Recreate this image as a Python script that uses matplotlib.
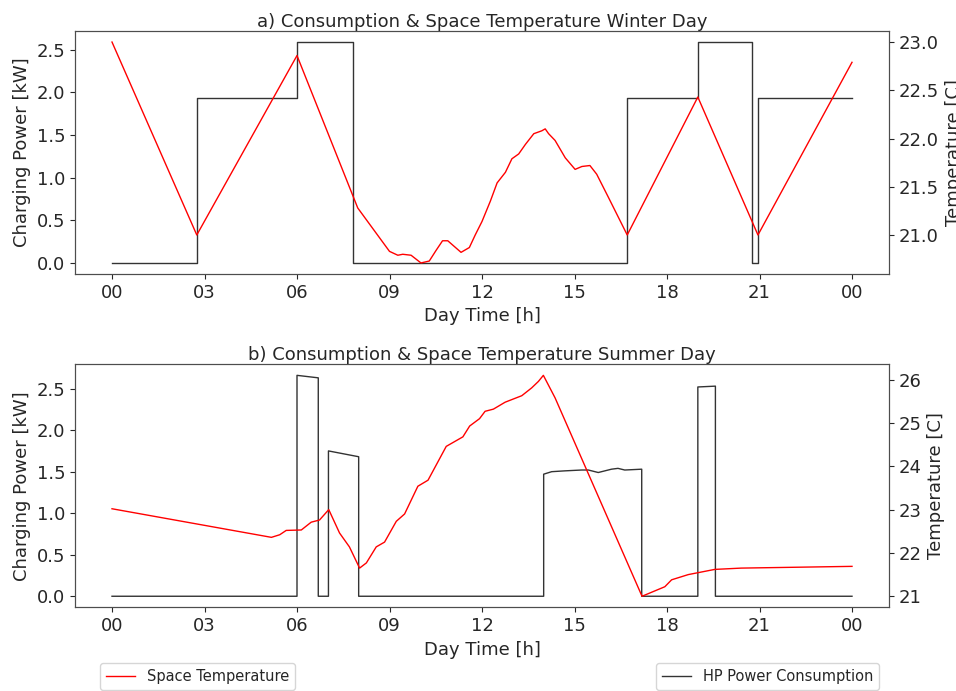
import matplotlib
matplotlib.use("Agg")
import matplotlib.pyplot as plt

# ---- Winter day ----
winter_power_t = [0, 2.75, 2.75, 6.0, 6.0, 7.83, 7.83, 16.71, 16.71, 19.0, 19.0, 20.75, 20.75, 20.95, 20.95, 24.0]
winter_power_kw = [0, 0, 1.93, 1.93, 2.59, 2.59, 0, 0, 1.93, 1.93, 2.59, 2.59, 0, 0, 1.93, 1.93]

winter_temp_t = [0, 2.75, 6.0, 7.97, 9.0, 9.27, 9.43, 9.70, 10.02, 10.29, 10.51, 10.72, 10.89,
                 11.32, 11.59, 11.78, 12.0, 12.27, 12.49, 12.76, 12.97, 13.19, 13.41, 13.68,
                 13.94, 14.05, 14.16, 14.37, 14.70, 15.02, 15.24, 15.50, 15.72, 16.10, 16.71,
                 19.0, 20.95, 24.0]
winter_temp_c = [23.0, 21.0, 22.86, 21.28, 20.83, 20.79, 20.80, 20.79, 20.71, 20.73, 20.84, 20.94,
                 20.94, 20.82, 20.87, 21.0, 21.14, 21.35, 21.54, 21.65, 21.79, 21.84, 21.94, 22.05,
                 22.08, 22.10, 22.05, 21.98, 21.80, 21.68, 21.71, 21.72, 21.63, 21.39, 21.0,
                 22.43, 21.0, 22.79]

# ---- Summer day ----
summer_power_t = [0, 6.0, 6.0, 6.69, 6.69, 7.02, 7.02, 8.0, 8.0, 14.0, 14.0, 14.26, 14.69, 15.23,
                  15.45, 15.77, 16.20, 16.41, 16.63, 17.18, 17.18, 19.0, 19.0, 19.57, 19.57, 24.0]
summer_power_kw = [0, 0, 2.66, 2.63, 0, 0, 1.75, 1.68, 0, 0, 1.47, 1.50, 1.51, 1.52,
                   1.52, 1.49, 1.53, 1.54, 1.52, 1.53, 0, 0, 2.52, 2.53, 0, 0]

summer_temp_t = [0, 5.17, 5.44, 5.65, 6.14, 6.46, 6.73, 7.03, 7.38, 7.70, 8.03, 8.25, 8.57, 8.84,
                 9.22, 9.49, 9.92, 10.25, 10.84, 11.38, 11.60, 11.92, 12.10, 12.37, 12.75, 13.29,
                 13.61, 13.83, 13.99, 14.37, 17.19, 17.93, 18.15, 18.69, 19.55, 20.41, 24.0]
summer_temp_c = [23.02, 22.36, 22.42, 22.52, 22.53, 22.71, 22.76, 23.0, 22.46, 22.14, 21.65, 21.77,
                 22.14, 22.25, 22.73, 22.90, 23.54, 23.68, 24.46, 24.68, 24.93, 25.10, 25.27, 25.32,
                 25.48, 25.63, 25.81, 25.96, 26.10, 25.58, 21.0, 21.22, 21.38, 21.50, 21.62, 21.65,
                 21.69]

hour_ticks = [0, 3, 6, 9, 12, 15, 18, 21, 24]
hour_labels = ["00", "03", "06", "09", "12", "15", "18", "21", "00"]

text_color = "#262626"
plt.rcParams.update({
    "font.family": ["DejaVu Sans"],
    "font.size": 13,
    "text.color": text_color,
    "axes.labelcolor": text_color,
    "xtick.color": text_color,
    "ytick.color": text_color,
    "axes.edgecolor": "#4d4d4d",
})

fig = plt.figure(figsize=(9.56, 6.91), dpi=100)
W, H = 956, 691
left, right = 75 / W, 889 / W
ax_top = fig.add_axes([left, 1 - 274 / H, right - left, (274 - 31) / H])
ax_bot = fig.add_axes([left, 1 - 607.3 / H, right - left, (607.3 - 364.3) / H])

panels = [
    (ax_top, winter_power_t, winter_power_kw, winter_temp_t, winter_temp_c,
     "a) Consumption & Space Temperature Winter Day", [21.0, 21.5, 22.0, 22.5, 23.0], "%.1f"),
    (ax_bot, summer_power_t, summer_power_kw, summer_temp_t, summer_temp_c,
     "b) Consumption & Space Temperature Summer Day", [21, 22, 23, 24, 25, 26], "%d"),
]

handles = []
for ax, pt, pv, tt, tv, title, tticks, tfmt in panels:
    hp, = ax.plot(pt, pv, color="#333333", lw=1.0, label="HP Power Consumption")
    ax.set_ylabel("Charging Power [kW]", fontsize=13)
    ax.set_xlabel("Day Time [h]", fontsize=13)
    ax.set_title(title, fontsize=13, pad=3)
    ax.set_xticks(hour_ticks)
    ax.set_xticklabels(hour_labels)
    ax.set_yticks([0.0, 0.5, 1.0, 1.5, 2.0, 2.5])
    ax.set_yticklabels(["0.0", "0.5", "1.0", "1.5", "2.0", "2.5"])
    ax.tick_params(labelsize=13)
    twin = ax.twinx()
    st, = twin.plot(tt, tv, color="red", lw=1.0, label="Space Temperature")
    twin.set_ylabel("Temperature [C]", fontsize=13)
    twin.set_yticks(tticks)
    twin.set_yticklabels([tfmt % v for v in tticks])
    twin.tick_params(labelsize=13)
    handles = [st, hp]

fig.legend([handles[0]], ["Space Temperature"], loc="upper left",
           bbox_to_anchor=(100 / W, 1 - 663 / H), fontsize=10.5, borderaxespad=0)
fig.legend([handles[1]], ["HP Power Consumption"], loc="upper right",
           bbox_to_anchor=(879 / W, 1 - 663 / H), fontsize=10.5, borderaxespad=0)

fig.savefig("out.png", dpi=100)
